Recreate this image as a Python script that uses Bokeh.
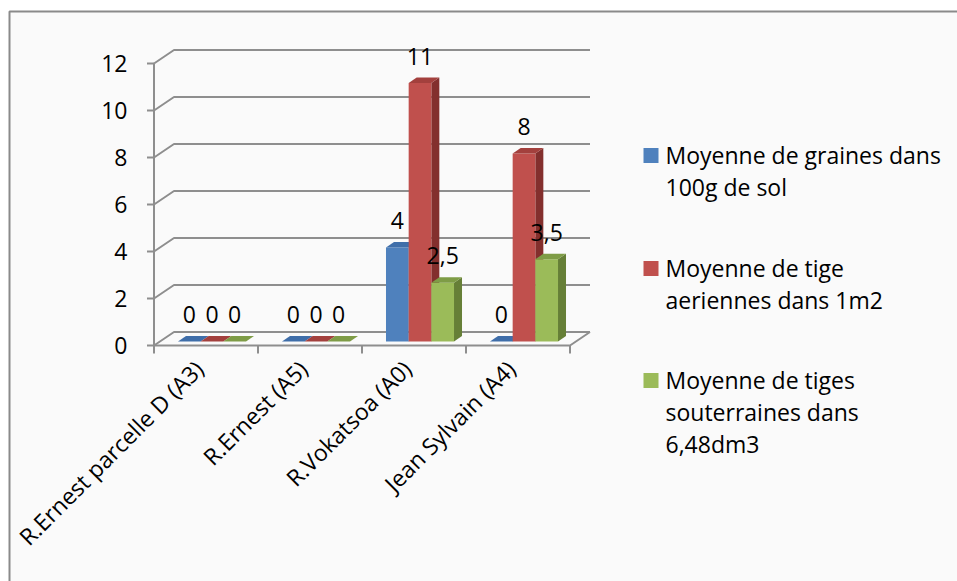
import numpy as np
from bokeh.plotting import figure
from bokeh.models import Range1d
from bokeh.core.properties import value
from bokeh.embed import file_html
from bokeh.resources import INLINE

# ---- data ----------------------------------------------------------------
categories = ["R.Ernest parcelle D (A3)", "R.Ernest (A5)",
              "R.Vokatsoa (A0)", "Jean Sylvain (A4)"]
graines = [0, 0, 4, 0]                 # Moyenne de graines dans 100g de sol
tiges_aeriennes = [0, 0, 11, 8]        # Moyenne de tige aeriennes dans 1m2
tiges_souterraines = [0, 0, 2.5, 3.5]  # Moyenne de tiges souterraines dans 6,48dm3
series = [graines, tiges_aeriennes, tiges_souterraines]
series_labels = [["Moyenne de graines dans", "100g de sol"],
                 ["Moyenne de tige", "aeriennes dans 1m2"],
                 ["Moyenne de tiges", "souterraines dans", "6,48dm3"]]
y_ticks = [0, 2, 4, 6, 8, 10, 12]

# ---- styling ---------------------------------------------------------------
FONT = value("Open Sans")
front_colors = ["#4F81BD", "#C0504D", "#9BBB59"]
top_colors = ["#3F6EA9", "#A3403D", "#7E9C46"]
side_colors = ["#375C8B", "#832F2D", "#667F37"]
GRID = "#8E8E8E"

W, H = 957, 581
X0, CAT_PX = 205.5, 104.0     # pixel centre of first category, pixels per category
Y0, UNIT_PX = 345.0, 23.5     # pixel row of value 0, pixels per unit


def xd(px):
    return (px - X0) / CAT_PX


def yd(py):
    return (Y0 - py) / UNIT_PX


p = figure(width=W, height=H,
           x_range=Range1d(xd(0), xd(W)), y_range=Range1d(yd(H), yd(0)),
           x_axis_type=None, y_axis_type=None,
           toolbar_location=None, output_backend="svg", min_border=0)
p.outline_line_color = None
p.background_fill_color = "white"
p.border_fill_color = "white"

# chart area with its frame
p.quad(left=xd(9), right=xd(W + 20), top=yd(11), bottom=yd(H + 20),
       fill_color="#FAFAFA", line_color="#8A8A8A", line_width=2)

# 3-D box depth
DX, DY = 20 / CAT_PX, 13.5 / UNIT_PX
LEFT, RIGHT = -0.5, len(categories) - 0.5

# walls: side-wall diagonals and back-wall gridlines
for t in y_ticks:
    p.line([LEFT, LEFT + DX, RIGHT + DX], [t, t + DY, t + DY],
           line_color=GRID, line_width=2)
# floor front edge and right edge
p.line([LEFT, RIGHT, RIGHT + DX], [0, 0, DY], line_color=GRID, line_width=2)
# front value axis and its ticks
p.line([LEFT, LEFT], [0, max(y_ticks)], line_color=GRID, line_width=2)
p.segment(x0=[LEFT - 7 / CAT_PX] * len(y_ticks), y0=y_ticks,
          x1=[LEFT] * len(y_ticks), y1=y_ticks, line_color=GRID, line_width=2)
# category ticks
cat_edges = [LEFT + i for i in range(len(categories) + 1)]
p.segment(x0=cat_edges, y0=[0] * len(cat_edges), x1=cat_edges,
          y1=[-8 / UNIT_PX] * len(cat_edges), line_color=GRID, line_width=2)

# value tick labels
p.text(x=[xd(127)] * len(y_ticks), y=y_ticks, text=[str(t) for t in y_ticks],
       text_font=FONT, text_font_size="23px", text_color="black",
       text_align="right", text_baseline="middle")

# ---- 3-D columns -------------------------------------------------------------
BW = 0.218                                  # column width (category units)
BOX, BOY = 6 / CAT_PX, 4 / UNIT_PX          # column plane inside the box
BDX, BDY = 8 / CAT_PX, 5.5 / UNIT_PX        # column depth

xs, ys, fills = [], [], []
lab_x, lab_y, lab_t = [], [], []
for i in range(len(categories)):
    for k, vals in enumerate(series):
        v = vals[i]
        xl = i - 1.5 * BW + k * BW + BOX
        xr = xl + BW
        yb = BOY
        yt = BOY + v
        # side face
        xs.append([xr, xr + BDX, xr + BDX, xr])
        ys.append([yb, yb + BDY, yt + BDY, yt])
        fills.append(side_colors[k])
        # front face
        xs.append([xl, xr, xr, xl])
        ys.append([yb, yb, yt, yt])
        fills.append(front_colors[k])
        # top face
        xs.append([xl, xr, xr + BDX, xl + BDX])
        ys.append([yt, yt, yt + BDY, yt + BDY])
        fills.append(top_colors[k])
        lab_x.append((xl + xr) / 2)
        lab_y.append(yt)
        lab_t.append(f"{v:g}".replace(".", ","))

p.patches(xs=xs, ys=ys, fill_color=fills, line_color=None)

# data labels
p.text(x=lab_x, y=lab_y, text=lab_t, y_offset=-27,
       text_font=FONT, text_font_size="23px", text_color="black",
       text_align="center", text_baseline="middle")

# rotated category labels, ending at each category centre
cat_x = [i - 7 / CAT_PX for i in range(len(categories))]
p.text(x=cat_x, y=[yd(364)] * len(categories), text=categories, angle=np.pi / 4,
       text_font=FONT, text_font_size="23px", text_color="black",
       text_align="right", text_baseline="middle")

# ---- legend -----------------------------------------------------------------
legend_rows = [155, 268, 380]
p.scatter(x=[xd(650.5)] * 3, y=[yd(r) for r in legend_rows], marker="square",
          size=15, fill_color=front_colors, line_color=None)
lx, ly, lt = [], [], []
for r, lines in zip(legend_rows, series_labels):
    for j, line in enumerate(lines):
        lx.append(xd(665))
        ly.append(yd(r - 1 + 32 * j))
        lt.append(line)
p.text(x=lx, y=ly, text=lt, text_font=FONT, text_font_size="23px",
       text_color="black", text_align="left", text_baseline="middle")

open("out.html", "w").write(file_html(p, INLINE))
